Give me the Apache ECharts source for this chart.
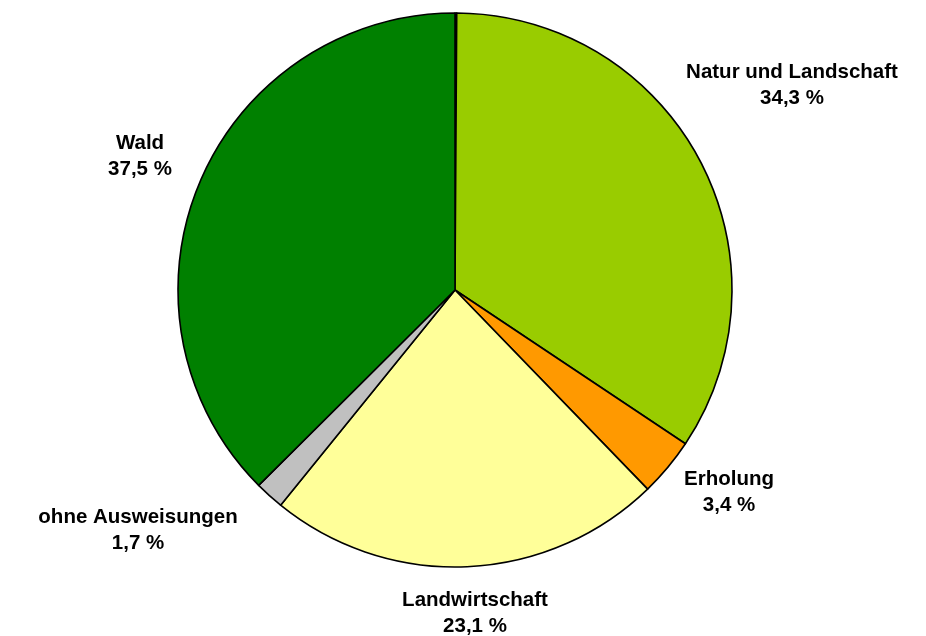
<!DOCTYPE html>
<html lang="de">
<head>
  <meta charset="UTF-8">
  <title>Flächenanteile</title>
  <style>
    body { margin: 0; padding: 0; background: #fff; }
    #chart { width: 926px; height: 636px; }
  </style>
  <script src="https://cdn.jsdelivr.net/npm/echarts@6/dist/echarts.min.js"></script>
</head>
<body>
  <div id="chart"></div>
  <script>
    // data
    const categories = ['', 'Natur und Landschaft', 'Erholung', 'Landwirtschaft', 'ohne Ausweisungen', 'Wald'];
    const values = [0.1, 34.3, 3.4, 23.1, 1.7, 37.5];
    const colors = ['#1a1a1a', '#99CC00', '#FF9900', '#FFFF99', '#C0C0C0', '#008000'];

    // label centres in px (style, not data)
    const labelPos = [null, [792, 85], [729, 492], [475, 613], [138, 530], [140, 156]];

    const chart = echarts.init(document.getElementById('chart'));
    chart.setOption({
      animation: false,
      series: [{
        type: 'pie',
        center: [455, 290],
        radius: 277,
        startAngle: 90,
        clockwise: true,
        avoidLabelOverlap: false,
        itemStyle: { borderColor: '#000', borderWidth: 1.6 },
        label: {
          show: true,
          color: '#000',
          fontFamily: 'Liberation Sans, Arial, sans-serif',
          fontWeight: 'bold',
          fontSize: 20.5,
          lineHeight: 26,
          align: 'center',
          formatter: p => p.name ? p.name + '\n' + p.value.toFixed(1).replace('.', ',') + ' %' : ''
        },
        labelLine: { show: false },
        labelLayout: p => {
          const pos = labelPos[p.dataIndex];
          if (!pos) return { hideOverlap: false };
          return { x: pos[0], y: pos[1], align: 'center', verticalAlign: 'middle' };
        },
        emphasis: { disabled: true },
        data: categories.map((c, i) => ({ name: c, value: values[i], itemStyle: { color: colors[i] } }))
      }]
    });
  </script>
</body>
</html>
